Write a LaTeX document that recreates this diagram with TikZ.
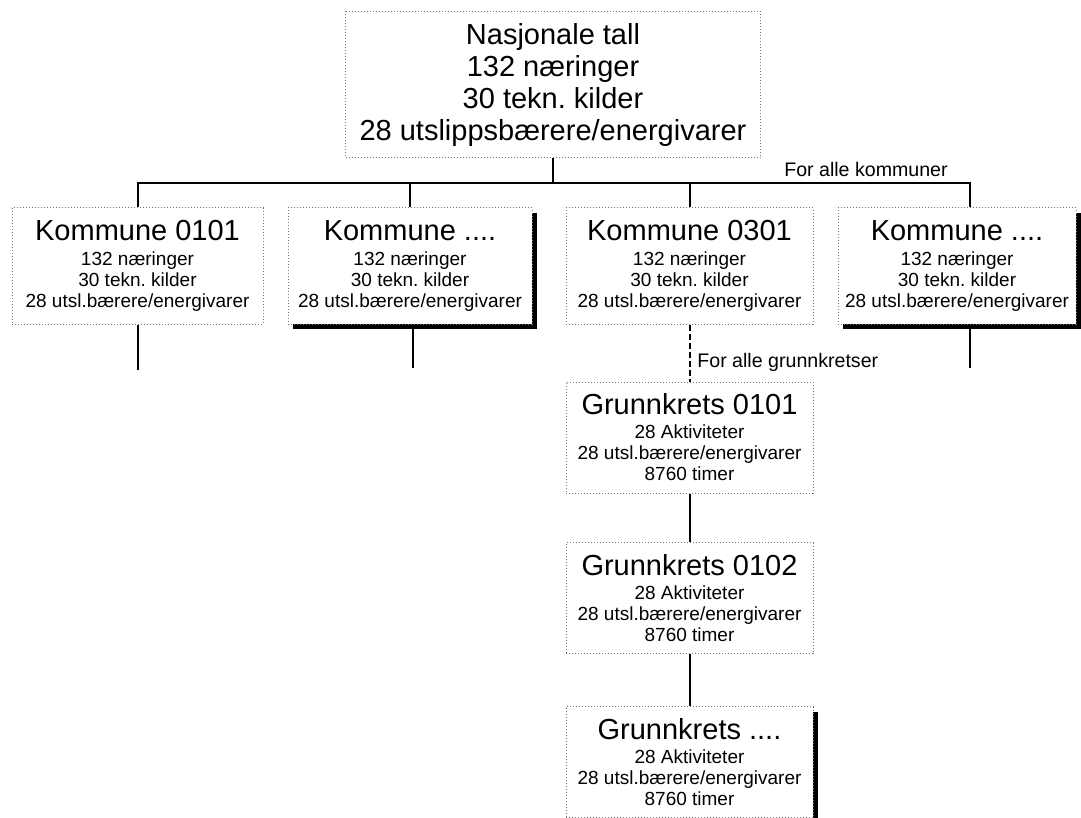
\documentclass[tikz,border=0pt]{standalone}
\usepackage{fontspec}
\setmainfont{Liberation Sans}
\usetikzlibrary{shadows}
\definecolor{box gray}{rgb}{0.45, 0.45, 0.45}
\newcommand{\boxtitle}{\fontsize{14.5}{16}\selectfont}
\newcommand{\boxbody}{\fontsize{9.5}{10.5}\selectfont}
\frenchspacing

\begin{document}
\begin{tikzpicture}[x=0.5pt, y=-0.5pt,
		unit/.style={draw=box gray, densely dotted, line width=0.5pt, fill=white,
			align=center, inner sep=0pt, font=\boxbody},
		shadowed/.style={drop shadow={shadow xshift=2.5pt, shadow yshift=-2.5pt,
			fill=black, opacity=1}},
		link/.style={line width=1pt},
		note/.style={font=\fontsize{9.8}{12}\selectfont, inner sep=0pt}]
			\useasboundingbox (0, 0) rectangle (1081, 818);
			% national level
			\node[unit, font=\boxtitle, minimum width=207.5pt, minimum height=73pt] (nat) at (553, 85)
				{Nasjonale tall\\132 næringer\\30 tekn. kilder\\28 utslippsbærere/energivarer};
			% municipalities
			\node[unit, minimum width=125.5pt, minimum height=58pt] (k1) at (137.5, 266)
				{{\boxtitle Kommune 0101}\\[2pt]132 næringer\\30 tekn. kilder\\28 utsl.bærere/energivarer};
			\node[unit, shadowed, minimum width=122pt, minimum height=58pt] (k2) at (410, 266)
				{{\boxtitle Kommune ....}\\[2pt]132 næringer\\30 tekn. kilder\\28 utsl.bærere/energivarer};
			\node[unit, minimum width=123.5pt, minimum height=58pt] (k3) at (689.5, 266)
				{{\boxtitle Kommune 0301}\\[2pt]132 næringer\\30 tekn. kilder\\28 utsl.bærere/energivarer};
			\node[unit, shadowed, minimum width=119pt, minimum height=58pt] (k4) at (957, 266)
				{{\boxtitle Kommune ....}\\[2pt]132 næringer\\30 tekn. kilder\\28 utsl.bærere/energivarer};
			% basic statistical units
			\node[unit, minimum width=123.5pt, minimum height=55.5pt] (g1) at (689.5, 437.5)
				{{\boxtitle Grunnkrets 0101}\\[1.5pt]28 Aktiviteter\\28 utsl.bærere/energivarer\\8760 timer};
			\node[unit, minimum width=123.5pt, minimum height=55.5pt] (g2) at (689.5, 598)
				{{\boxtitle Grunnkrets 0102}\\[1.5pt]28 Aktiviteter\\28 utsl.bærere/energivarer\\8760 timer};
			\node[unit, shadowed, minimum width=123.5pt, minimum height=55.5pt] (g3) at (689.5, 762)
				{{\boxtitle Grunnkrets ....}\\[1.5pt]28 Aktiviteter\\28 utsl.bærere/energivarer\\8760 timer};
			% bus between levels
			\coordinate (bus) at (0, 183);
			\coordinate (k4stem) at (970, 0);
			\draw[link] (nat.south) -- (nat.south |- bus);
			\draw[link] (k1.north) -- (k1.north |- bus) -- (k4stem |- bus) -- (k4stem |- k4.north);
			\foreach \k in {k2, k3}
				\draw[link] (\k.north) -- (\k.north |- bus);
			\node[note, anchor=base] (allk) at (866, 177) {For alle kommuner};
			% open ends below municipalities
			\coordinate (k1end) at (137.5, 370);
			\coordinate (k2end) at (413, 368);
			\coordinate (k4end) at (970, 368);
			\draw[link] (k1.south) -- (k1end);
			\draw[link] (k2end |- k2.south) -- (k2end);
			\draw[link] (k4end |- k4.south) -- (k4end);
			% chain of grunnkretser
			\draw[link, dash pattern=on 3pt off 1.5pt] (k3.south) -- (g1.north);
			\node[note, anchor=base west] (allg) at (697, 367) {For alle grunnkretser};
			\draw[link] (g1) -- (g2);
			\draw[link] (g2) -- (g3);
		\end{tikzpicture}
\end{document}
